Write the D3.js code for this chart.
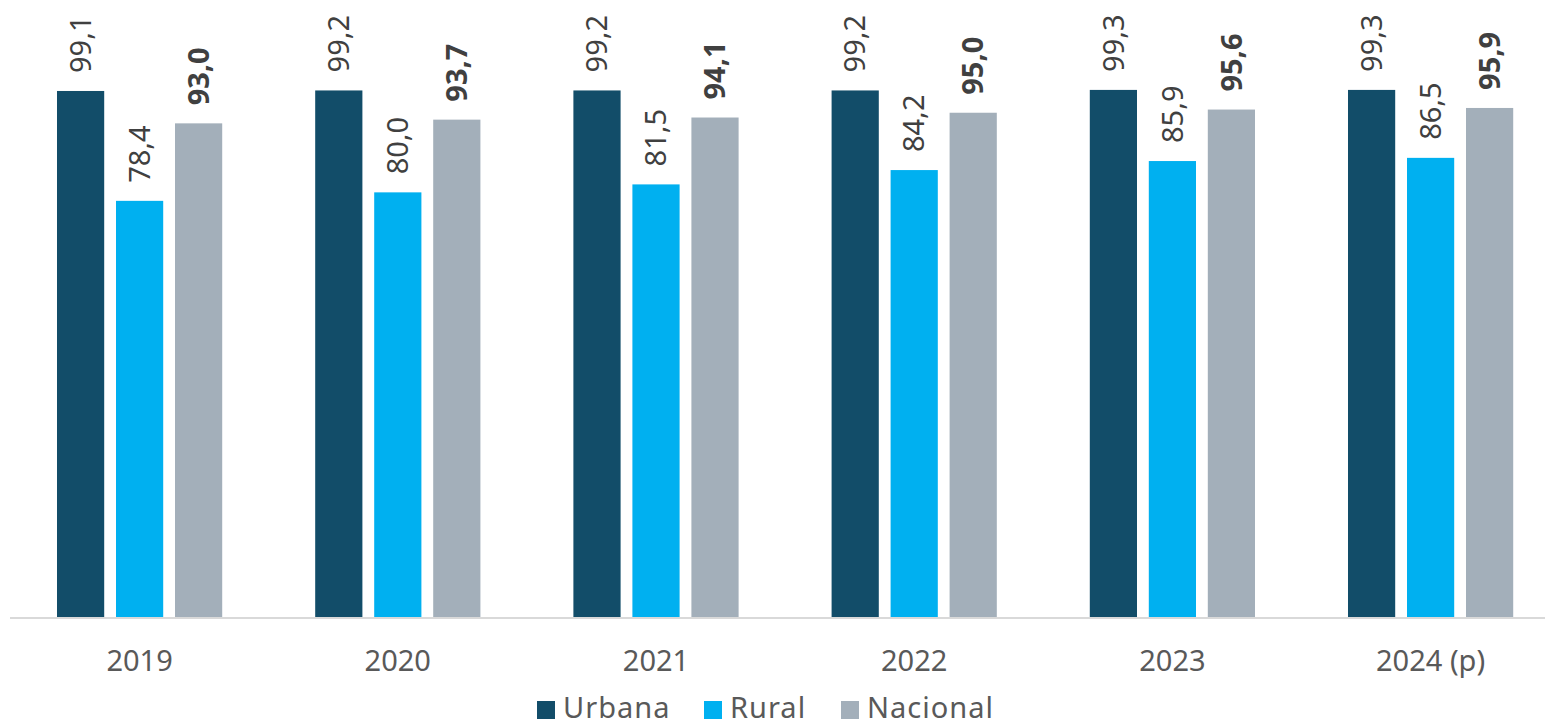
<!DOCTYPE html>
<html>
<head>
<meta charset="utf-8">
<script src="https://cdn.jsdelivr.net/npm/d3@7"></script>
<style>
  body { margin: 0; background: #fff; }
  text { font-family: "Century Gothic", "Noto Sans", sans-serif; }
</style>
</head>
<body>
<svg id="chart" width="1545" height="724"></svg>
<script>
// Data
const years = ['2019', '2020', '2021', '2022', '2023', '2024 (p)'];
const series = ['Urbana', 'Rural', 'Nacional'];
const urbana = [99.1, 99.2, 99.2, 99.2, 99.3, 99.3];
const rural = [78.4, 80.0, 81.5, 84.2, 85.9, 86.5];
const nacional = [93.0, 93.7, 94.1, 95.0, 95.6, 95.9];

const colors = {Urbana: '#124d69', Rural: '#00b0f0', Nacional: '#a3afba'};

let rows = years.map((y, i) => ({
    year: y,
    values: [
        {key: 'Urbana', value: urbana[i]},
        {key: 'Rural', value: rural[i]},
        {key: 'Nacional', value: nacional[i]}
    ]
}));

// value labels use comma decimals
const fmt = v => v.toFixed(1).replace('.', ',');

let svg = d3.select('#chart');

let x0 = d3.scaleBand()
    .domain(years)
    .range([10.5, 1559.7]);

let x1 = d3.scaleBand()
    .domain(series)
    .range([0, x0.bandwidth()])
    .paddingInner(0.2)
    .paddingOuter(0.788);

let y = d3.scaleLinear()
    .domain([0, 100])
    .range([617, 86.2]);

// baseline
svg.append('line')
    .attr('x1', 10)
    .attr('x2', 1545)
    .attr('y1', y(0) + 1)
    .attr('y2', y(0) + 1)
    .attr('stroke', '#d9d9d9')
    .attr('stroke-width', 2);

let groups = svg.selectAll('.group')
    .data(rows)
    .enter().append('g')
    .attr('class', 'group')
    .attr('transform', d => 'translate(' + x0(d.year) + ',0)');

groups.selectAll('rect')
    .data(d => d.values)
    .enter().append('rect')
    .attr('x', d => x1(d.key))
    .attr('y', d => y(d.value))
    .attr('width', x1.bandwidth())
    .attr('height', d => y(0) - y(d.value))
    .attr('fill', d => colors[d.key]);

// rotated value labels above bars
groups.selectAll('.val')
    .data(d => d.values)
    .enter().append('text')
    .attr('class', 'val')
    .attr('transform', d => {
        let cx = x1(d.key) + x1.bandwidth() / 2;
        return 'translate(' + cx + ',' + (y(d.value) - 18) + ') rotate(-90)';
    })
    .attr('dy', '0.35em')
    .attr('text-anchor', 'start')
    .attr('fill', '#404040')
    .style('font-size', '29px')
    .style('font-weight', d => d.key === 'Nacional' ? 'bold' : 'normal')
    .text(d => fmt(d.value));

// category labels
svg.selectAll('.cat')
    .data(years)
    .enter().append('text')
    .attr('class', 'cat')
    .attr('x', d => x0(d) + x0.bandwidth() / 2)
    .attr('y', 671)
    .attr('text-anchor', 'middle')
    .attr('fill', '#595959')
    .style('font-size', '29px')
    .text(d => d);

// legend
let legendX = [537, 704, 841];
let legend = svg.selectAll('.legend')
    .data(series)
    .enter().append('g')
    .attr('class', 'legend')
    .attr('transform', (d, i) => 'translate(' + legendX[i] + ',701)');

legend.append('rect')
    .attr('width', 18)
    .attr('height', 18)
    .attr('fill', d => colors[d]);

legend.append('text')
    .attr('x', 26)
    .attr('y', 17)
    .attr('fill', '#595959')
    .style('font-size', '29px')
    .style('letter-spacing', '1px')
    .text(d => d);
</script>
</body>
</html>
